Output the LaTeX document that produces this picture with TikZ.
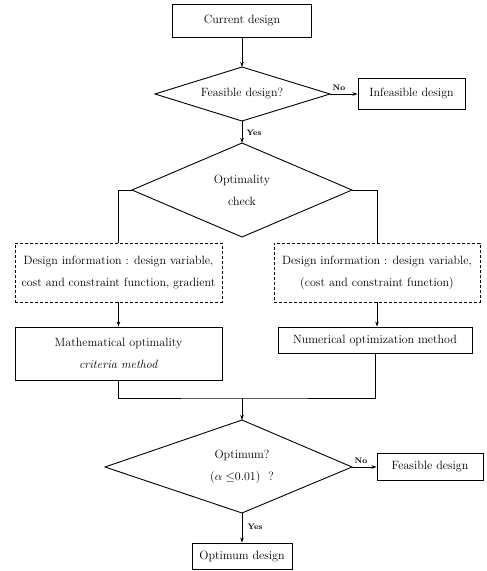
\documentclass[tikz,border=0pt]{standalone}
\usetikzlibrary{arrows.meta}
\begin{document}
\begin{tikzpicture}[x=1pt,y=-1pt,
  txt/.style={font=\fontsize{12}{22}\selectfont,align=center},
  box/.style={txt,draw,line width=0.9pt,rectangle,inner sep=0pt},
  dbox/.style={box,dash pattern=on 3pt off 2pt},
  ln/.style={line width=0.9pt},
  arr/.style={ln,-{Stealth[length=5pt,width=3.5pt]}},
  tag/.style={font=\fontsize{8}{9}\selectfont\bfseries,inner sep=0pt}]
\useasboundingbox (0,0) rectangle (487,571);

% top
\node[box,minimum width=139pt,minimum height=33pt] (cur) at (242,20.5) {Current design};

% feasible diamond
\coordinate (ft) at (242,67);
\coordinate (fr) at (330,94);
\coordinate (fb) at (242,121);
\coordinate (fl) at (155,94);
\draw[ln] (ft) -- (fr) -- (fb) -- (fl) -- cycle;
\node[txt] (fd) at (242,94) {Feasible design?};
\draw[arr] (cur.south) -- (ft);

\node[box,minimum width=107pt,minimum height=31pt] (inf) at (411.5,94) {Infeasible design};
\draw[arr] (fr) -- (inf.west);
\node[tag] (no1) at (339,88) {No};

% optimality diamond
\coordinate (ot) at (242,143);
\coordinate (or) at (352,190);
\coordinate (ob) at (242,237);
\coordinate (ol) at (132,190);
\draw[ln] (ot) -- (or) -- (ob) -- (ol) -- cycle;
\node[txt] (oc) at (242,190) {Optimality\\check};
\draw[arr] (fb) -- (ot);
\node[tag] (yes1) at (254,133) {Yes};

% dashed info boxes
\node[dbox,minimum width=207pt,minimum height=59pt] (dl) at (118.5,272.5)
  {Design information : design variable,\\cost and constraint function, gradient};
\node[dbox,minimum width=206pt,minimum height=59pt] (dr) at (377,272.5)
  {Design information : design variable,\\(cost and constraint function)};
\draw[ln] (ol) -| (dl.north);
\draw[ln] (or) -| (dr.north);

% methods
\node[box,minimum width=207pt,minimum height=53pt] (math) at (118.5,353.5)
  {Mathematical optimality\\\textit{criteria method}};
\node[box,minimum width=194pt,minimum height=26pt] (num) at (375,340)
  {Numerical optimization method};
\draw[arr] (dl.south) -- (math.north);
\draw[arr] (dr.south) -- (dr.south |- num.north);

% merge
\coordinate (m) at (242,398);
\draw[ln] (math.south) |- (m) -| (num.south);

% optimum diamond
\coordinate (pt) at (242,420);
\coordinate (pr) at (352,467);
\coordinate (pb) at (242,513);
\coordinate (pl) at (105,467);
\draw[ln] (pt) -- (pr) -- (pb) -- (pl) -- cycle;
\node[txt] (pd) at (242,467) {Optimum?\\($\alpha\leq$0.01)\ \ ?};
\draw[arr] (m) -- (pt);

\node[box,minimum width=106pt,minimum height=27pt] (fea) at (430,467) {Feasible design};
\draw[arr] (pr) -- (fea.west);
\node[tag] (no2) at (361,461) {No};

\node[box,minimum width=100pt,minimum height=26pt] (opt) at (242,556) {Optimum design};
\draw[arr] (pb) -- (opt.north);
\node[tag] (yes2) at (255,527) {Yes};
\end{tikzpicture}
\end{document}
